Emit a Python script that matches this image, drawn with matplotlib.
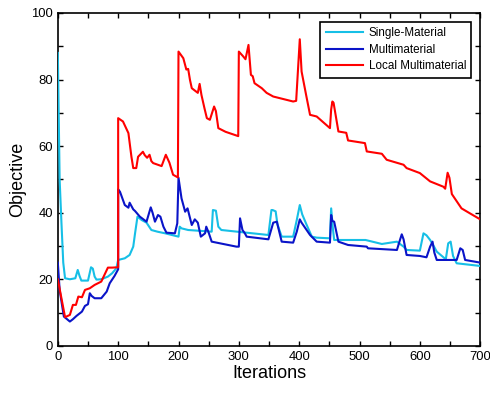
import numpy as np
import matplotlib
matplotlib.use('Agg')
from matplotlib import pyplot as plt

plt.rcParams['font.family'] = ['Liberation Sans', 'DejaVu Sans']

# Single-Material (cyan)
single_x = [0, 3, 6, 9, 12, 20, 29, 33, 36, 39, 50, 55, 58, 61, 64, 72, 83, 90, 97, 100,
            111, 119, 125, 128, 132, 139, 147, 155, 165, 178, 200, 202, 205, 216, 255, 257, 262,
            266, 271, 349, 354, 356, 361, 364, 371, 390, 396, 401, 405, 412, 421, 429, 451, 453,
            456, 458, 475, 493, 510, 537, 562, 573, 578, 600, 606, 611, 617, 622, 628, 643, 647,
            651, 655, 661, 700]
single_y = [88, 50, 37, 25, 20.3, 20, 20.3, 22.8, 21, 19.6, 19.6, 23.6, 23.2, 20.8, 19.9, 20, 20.8, 21.8, 23.3, 25.8,
            26.3, 27.3, 29.8, 33.8, 38.8, 37.8, 37, 34.8, 34.3, 33.8, 32.8, 35.8, 35.3, 34.8, 34.3, 40.8, 40.6,
            35.8, 34.8, 33.3, 40.8, 40.8, 40.4, 36.5, 32.8, 32.8, 37.8, 42.3, 39.5, 36.5, 32.8, 32.5, 32.3, 41.3,
            35, 31.8, 31.8, 31.8, 31.8, 30.6, 31.3, 29.8, 28.8, 28.6, 33.8, 33.2, 31.8, 30.3, 28.3, 26, 30.8,
            31.3, 27, 24.8, 24]

# Multimaterial (blue)
multi_x = [0, 3, 10, 20, 25, 31, 38, 40, 45, 50, 53, 56, 61, 72, 81, 86, 94, 100,
           100, 103, 111, 117, 119, 125, 128, 136, 147, 154, 157, 161, 166, 170, 175, 180, 194,
           198, 200, 205, 211, 215, 222, 227, 232, 237, 244, 246, 250, 255, 296, 300, 302, 306,
           310, 313, 349, 357, 363, 366, 371, 390, 396, 401, 404, 418, 429, 451, 453, 455, 458,
           465, 481, 512, 514, 562, 567, 570, 573, 578, 600, 611, 617, 621, 624, 628, 661, 667,
           671, 675, 700]
multi_y = [25, 16.8, 8.8, 7.3, 8, 9, 10, 10.3, 12, 12.5, 15.8, 15, 14.3, 14.3, 16.3, 18.8, 21, 23,
           47, 46.3, 42.3, 41.5, 43, 41, 40.5, 38.8, 37.3, 41.6, 40, 37.3, 39.3, 38.8, 35.8, 34, 33.8,
           36.8, 50.5, 44.3, 40.3, 41.3, 36.3, 38, 37, 32.8, 33.8, 35.8, 34, 31.3, 29.8, 29.8, 38.3, 34.8,
           33.8, 32.8, 32, 37, 37.3, 35, 31.3, 31, 34.3, 38, 37, 33.3, 31.3, 31, 39.3, 37.5, 37.3,
           31.3, 30.3, 29.8, 29.3, 28.8, 31.8, 33.5, 32, 27.3, 27, 26.6, 29.8, 31.3, 28, 25.8, 25.8, 29.3,
           28.8, 25.8, 25]

# Local Multimaterial (red)
local_x = [0, 12, 20, 25, 30, 34, 40, 45, 53, 61, 72, 83, 90, 100,
           100, 108, 117, 122, 125, 130, 133, 141, 144, 148, 152, 155, 158, 172, 179, 185, 191, 199,
           200, 208, 213, 216, 219, 222, 232, 235, 238, 243, 247, 252, 259, 262, 266, 278, 299,
           300, 307, 311, 316, 320, 323, 326, 338, 346, 357, 390, 395, 401, 404, 412, 418, 429, 451,
           453, 455, 457, 465, 478, 481, 509, 512, 537, 545, 573, 578, 600, 617, 639, 642, 646, 649,
           653, 669, 683, 700]
local_y = [20, 8.6, 9.3, 12.3, 12.3, 14.8, 14.6, 16.8, 17.3, 18.3, 19.3, 23.5, 23.5, 23.6,
           68.4, 67.4, 63.9, 56.8, 53.4, 53.4, 56.8, 58.3, 57.3, 56.5, 57.4, 55.5, 54.9, 54, 57.4, 55, 51.4, 50.6,
           88.4, 86.4, 83, 83.2, 79.9, 77.4, 76, 78.7, 75.4, 71.4, 68.4, 67.9, 71.9, 70.5, 65.4, 64.3, 63,
           88.4, 87, 86.1, 90.4, 81.4, 81, 78.9, 77.4, 76, 74.9, 73.4, 73.6, 92.1, 82.4, 74.9, 69.4, 68.9, 65.4,
           71, 73.4, 73, 64.4, 64, 61.7, 60.9, 58.4, 57.7, 55.9, 54.4, 53.4, 51.9, 49.4, 47.8, 47.2, 52, 50.5,
           45.6, 41.3, 39.8, 38]

fig = plt.figure(figsize=(4.9, 3.93), dpi=100)
ax = fig.add_axes([0.118, 0.12, 0.862, 0.847])

ax.plot(single_x, single_y, color='#16BFE6', lw=1.5, label='Single-Material', zorder=3)
ax.plot(multi_x, multi_y, color='#0A14C8', lw=1.5, label='Multimaterial', zorder=3)
ax.plot(local_x, local_y, color='#FF0000', lw=1.5, label='Local Multimaterial', zorder=3)

ax.set_xlim(0, 700)
ax.set_ylim(0, 100)
ax.set_xticks(np.arange(0, 701, 100))
ax.set_xticks(np.arange(0, 701, 50), minor=True)
ax.set_yticks(np.arange(0, 101, 20))
ax.set_yticks(np.arange(0, 101, 10), minor=True)
ax.tick_params(which='both', direction='in', top=True, right=True, length=3.6, width=1.0,
               labelsize=9.4)
for s in ax.spines.values():
    s.set_linewidth(1.2)

ax.set_xlabel('Iterations', fontsize=13, labelpad=2)
ax.set_ylabel('Objective', fontsize=13, labelpad=4)

leg = ax.legend(loc='upper right', fontsize=8.4, fancybox=False, edgecolor='black',
                borderpad=0.45, handlelength=3.2, handletextpad=0.5, labelspacing=0.4,
                borderaxespad=0.75, framealpha=1)
leg.get_frame().set_linewidth(1.2)

fig.savefig('out.png', dpi=100)
